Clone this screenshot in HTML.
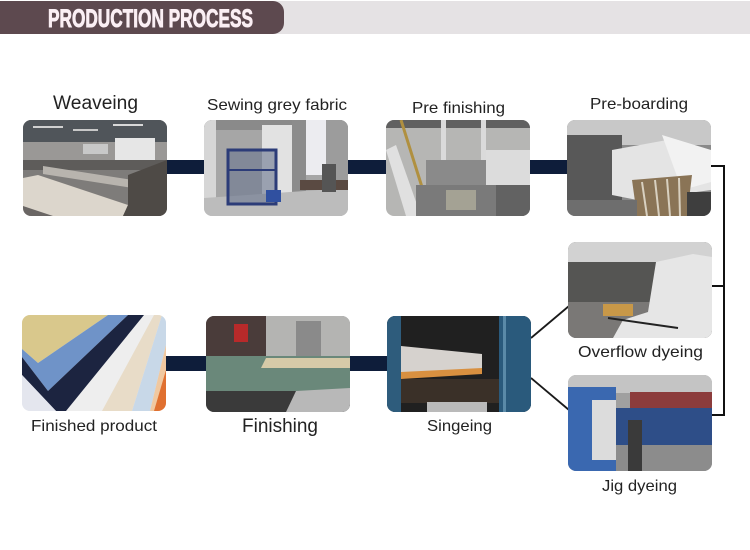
<!DOCTYPE html>
<html><head><meta charset="utf-8"><style>
html,body{margin:0;padding:0;background:#fff;}
svg{display:block;}
text{font-family:"Liberation Sans",Arial,sans-serif;}
</style></head><body>
<svg width="750" height="550" viewBox="0 0 750 550" xmlns="http://www.w3.org/2000/svg">
<defs>
<clipPath id="c"><rect x="0" y="0" width="144" height="96" rx="8" ry="8"/></clipPath>
</defs>
<rect width="750" height="550" fill="#fff"/>
<!-- header -->
<rect x="0" y="1" width="750" height="33" fill="#e5e2e4"/>
<path d="M0 1 H273 A11 11 0 0 1 284 12 V23 A11 11 0 0 1 273 34 H0Z" fill="#5d494f"/>
<text x="48" y="27" font-size="25" font-weight="bold" textLength="205" lengthAdjust="spacingAndGlyphs" fill="#fbeff4" stroke="#fbeff4" stroke-width="0.9">PRODUCTION PROCESS</text>

<!-- connectors -->
<g fill="#0e1d3a">
<rect x="160" y="160" width="50" height="14"/>
<rect x="342" y="160" width="50" height="14"/>
<rect x="524" y="160" width="50" height="14"/>
<rect x="160" y="356" width="52" height="15"/>
<rect x="344" y="356" width="48" height="15"/>
</g>
<g stroke="#111" stroke-width="2" fill="none">
<polyline points="710,166 724,166 724,415 710,415"/>
<line x1="710" y1="286" x2="724" y2="286"/>
</g>
<g stroke="#1a1a1a" stroke-width="1.8">
<line x1="531" y1="338" x2="569" y2="306"/>
<line x1="531" y1="378" x2="569" y2="410"/>
</g>

<!-- Weaveing -->
<g transform="translate(23,120)" clip-path="url(#c)">
<rect width="144" height="96" fill="#7e7c7a"/>
<rect width="144" height="22" fill="#50555a"/>
<rect x="10" y="6" width="30" height="2" fill="#d0d0d0"/>
<rect x="50" y="9" width="25" height="2" fill="#c8c8c8"/>
<rect x="90" y="4" width="30" height="2" fill="#d8d8d8"/>
<rect x="0" y="22" width="144" height="20" fill="#9a9896"/>
<rect x="92" y="18" width="40" height="22" fill="#e6e6e6"/>
<rect x="60" y="24" width="25" height="10" fill="#c8c8c8"/>
<rect x="0" y="40" width="144" height="10" fill="#5e5c5a"/>
<polygon points="20,46 110,60 110,68 20,54" fill="#b8b4ae"/>
<polygon points="0,58 15,55 105,85 100,96 0,96" fill="#dcd6cc"/>
<polygon points="105,55 144,40 144,96 100,96 105,85" fill="#4e4a46"/>
<polygon points="0,86 30,96 0,96" fill="#6a6664"/>
</g>

<!-- Sewing -->
<g transform="translate(204,120)" clip-path="url(#c)">
<rect width="144" height="96" fill="#a6a6a6"/>
<rect width="144" height="10" fill="#8a8a8a"/>
<rect x="0" y="0" width="12" height="96" fill="#d6d6d6"/>
<rect x="58" y="5" width="30" height="70" fill="#e2e2e2"/>
<rect x="88" y="0" width="14" height="85" fill="#8c8c8c"/>
<rect x="102" y="0" width="20" height="55" fill="#ececf0"/>
<rect x="122" y="0" width="22" height="70" fill="#9c9c9c"/>
<polygon points="0,78 144,68 144,96 0,96" fill="#bcbcbc"/>
<rect x="24" y="30" width="48" height="54" fill="#6a7690" fill-opacity="0.6" stroke="#2c3c78" stroke-width="3"/>
<line x1="24" y1="50" x2="72" y2="50" stroke="#2c3c78" stroke-width="2"/>
<rect x="62" y="70" width="15" height="12" fill="#3050a0"/>
<rect x="96" y="60" width="48" height="10" fill="#5a4a42"/>
<rect x="118" y="44" width="14" height="28" fill="#555"/>
</g>

<!-- Pre finishing -->
<g transform="translate(386,120)" clip-path="url(#c)">
<rect width="144" height="96" fill="#b6b6b4"/>
<rect width="144" height="8" fill="#606060"/>
<polygon points="0,30 10,25 35,96 20,96" fill="#e0e0e0"/>
<line x1="15" y1="0" x2="45" y2="96" stroke="#b09040" stroke-width="3"/>
<rect x="55" y="0" width="5" height="80" fill="#dadada"/>
<rect x="95" y="0" width="5" height="70" fill="#dadada"/>
<rect x="100" y="30" width="44" height="40" fill="#dcdcdc"/>
<rect x="40" y="40" width="60" height="25" fill="#8a8a8a"/>
<rect x="30" y="65" width="114" height="31" fill="#7a7a7a"/>
<rect x="60" y="70" width="30" height="20" fill="#a4a294"/>
<rect x="110" y="65" width="34" height="31" fill="#626262"/>
</g>

<!-- Pre-boarding -->
<g transform="translate(567,120)" clip-path="url(#c)">
<rect width="144" height="96" fill="#8a8a8a"/>
<rect width="144" height="25" fill="#c8c8c8"/>
<rect x="0" y="15" width="55" height="70" fill="#585858"/>
<polygon points="45,30 100,20 144,35 144,70 70,80 45,75" fill="#e4e4e4"/>
<polygon points="95,15 144,30 144,62 115,70" fill="#f2f2f2"/>
<polygon points="65,60 125,55 120,96 70,96" fill="#8a7456"/>
<g stroke="#d8d0c0" stroke-width="2"><line x1="75" y1="62" x2="80" y2="96"/><line x1="88" y1="60" x2="92" y2="96"/><line x1="100" y1="59" x2="103" y2="96"/><line x1="112" y1="58" x2="113" y2="96"/></g>
<rect x="0" y="80" width="70" height="16" fill="#6e6e6e"/>
<rect x="120" y="72" width="24" height="24" fill="#3e3e3e"/>
</g>

<!-- Overflow -->
<g transform="translate(568,242)" clip-path="url(#c)">
<rect width="144" height="96" fill="#6a6a68"/>
<rect width="144" height="22" fill="#d2d2d2"/>
<rect x="0" y="20" width="144" height="40" fill="#555553"/>
<rect x="0" y="60" width="144" height="36" fill="#7a7876"/>
<rect x="35" y="62" width="30" height="12" fill="#c89848"/>
<polygon points="88,20 125,12 144,15 144,96 45,96 55,78 80,70" fill="#e6e6e6"/>
<line x1="40" y1="76" x2="110" y2="86" stroke="#222" stroke-width="2"/>
</g>

<!-- Jig -->
<g transform="translate(568,375)" clip-path="url(#c)">
<rect width="144" height="96" fill="#a0a0a0"/>
<rect width="144" height="18" fill="#c4c4c4"/>
<rect x="0" y="12" width="48" height="84" fill="#3a68b0"/>
<rect x="24" y="25" width="24" height="60" fill="#dcdcdc"/>
<rect x="62" y="17" width="82" height="18" fill="#8c3c3c"/>
<rect x="48" y="33" width="96" height="37" fill="#2e4e88"/>
<rect x="48" y="70" width="96" height="26" fill="#8c8c8c"/>
<rect x="60" y="45" width="14" height="51" fill="#3a3a3a"/>
</g>

<!-- Singeing -->
<g transform="translate(387,316)" clip-path="url(#c)">
<rect width="145" height="96" fill="#202020"/>
<rect x="0" y="0" width="14" height="96" fill="#2e5c7c"/>
<rect x="112" y="0" width="33" height="96" fill="#2a5a7c"/>
<rect x="116" y="0" width="3" height="96" fill="#5a8aa8"/>
<polygon points="14,30 95,38 95,56 14,60" fill="#d6d2ce"/>
<polygon points="14,56 95,52 95,58 14,63" fill="#d89040"/>
<rect x="14" y="63" width="98" height="24" fill="#3a3028"/>
<rect x="40" y="86" width="60" height="10" fill="#bababa"/>
</g>

<!-- Finished product -->
<g transform="translate(22,315)" clip-path="url(#c)">
<rect width="144" height="96" fill="#eeeeee"/>
<polygon points="0,0 86,0 16,48 0,34" fill="#d9c88c"/>
<polygon points="86,0 106,0 26,76 0,42 0,34 16,48" fill="#6f93c8"/>
<polygon points="106,0 122,0 44,96 34,96 0,60 0,42 26,76" fill="#1c2440"/>
<polygon points="0,60 34,96 0,96" fill="#e4e6ee"/>
<polygon points="132,0 140,0 110,96 80,96" fill="#e8dcc8"/>
<polygon points="140,0 144,0 144,30 128,96 110,96" fill="#c8d8e8"/>
<polygon points="144,30 144,60 134,96 128,96" fill="#f0c8a0"/>
<polygon points="144,55 144,96 132,96" fill="#e07030"/>
</g>

<!-- Finishing -->
<g transform="translate(206,316)" clip-path="url(#c)">
<rect width="144" height="96" fill="#8a8a8a"/>
<rect x="0" y="0" width="60" height="45" fill="#4a3c3a"/>
<rect x="28" y="8" width="14" height="18" fill="#b82a2a"/>
<rect x="60" y="0" width="84" height="42" fill="#b4b4b2"/>
<rect x="90" y="5" width="25" height="35" fill="#8a8a8a"/>
<rect x="0" y="40" width="144" height="35" fill="#6a887a"/>
<polygon points="60,42 144,42 144,52 55,52" fill="#d6caa8"/>
<rect x="0" y="75" width="144" height="21" fill="#3a3a3a"/>
<polygon points="90,75 144,72 144,96 80,96" fill="#b8b8b8"/>
</g>

<!-- labels -->
<g fill="#222">
<text x="53" y="109" font-size="19" textLength="85" lengthAdjust="spacingAndGlyphs">Weaveing</text>
<text x="207" y="110" font-size="16" textLength="140" lengthAdjust="spacingAndGlyphs">Sewing grey fabric</text>
<text x="412" y="113" font-size="16" textLength="93" lengthAdjust="spacingAndGlyphs">Pre finishing</text>
<text x="590" y="109" font-size="16" textLength="98" lengthAdjust="spacingAndGlyphs">Pre-boarding</text>
<text x="578" y="357" font-size="16" textLength="125" lengthAdjust="spacingAndGlyphs">Overflow dyeing</text>
<text x="602" y="491" font-size="16" textLength="75" lengthAdjust="spacingAndGlyphs">Jig dyeing</text>
<text x="31" y="431" font-size="16" textLength="126" lengthAdjust="spacingAndGlyphs">Finished product</text>
<text x="242" y="432" font-size="19" textLength="76" lengthAdjust="spacingAndGlyphs">Finishing</text>
<text x="427" y="431" font-size="16" textLength="65" lengthAdjust="spacingAndGlyphs">Singeing</text>
</g>
</svg>
</body></html>
